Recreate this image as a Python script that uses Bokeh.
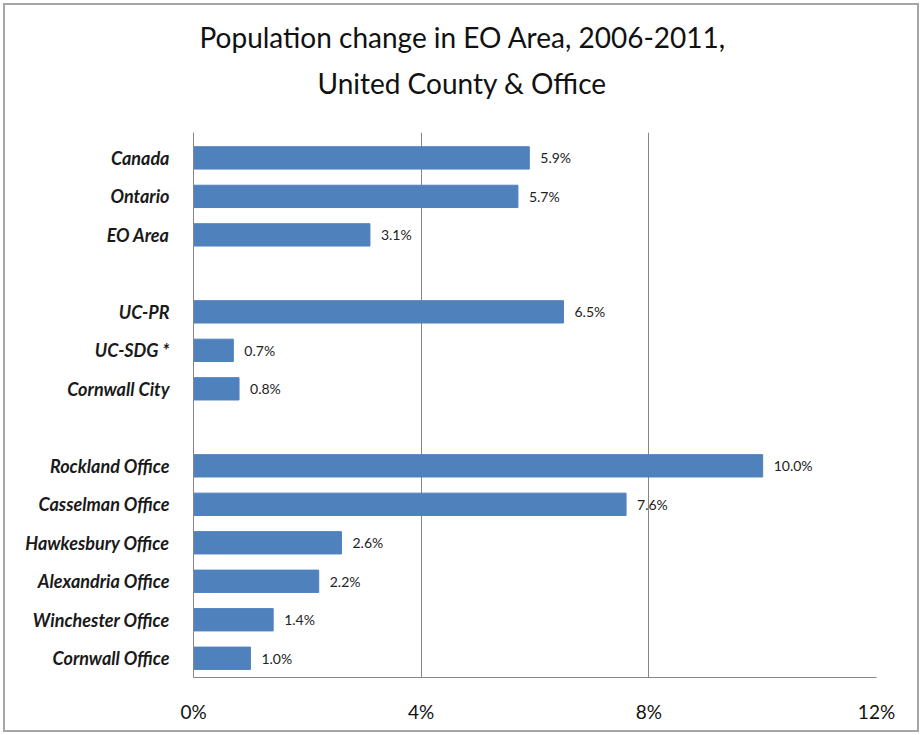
from bokeh.plotting import figure
from bokeh.models import ColumnDataSource, FixedTicker, Range1d, Title
from bokeh.core.properties import value
from bokeh.embed import file_html
from bokeh.resources import INLINE

categories = ["Canada", "Ontario", "EO Area",
              "UC-PR", "UC-SDG *", "Cornwall City",
              "Rockland Office", "Casselman Office", "Hawkesbury Office",
              "Alexandria Office", "Winchester Office", "Cornwall Office"]
values = [5.9, 5.7, 3.1, 6.5, 0.7, 0.8, 10.0, 7.6, 2.6, 2.2, 1.4, 1.0]
groups = [0, 0, 0, 1, 1, 1, 2, 2, 2, 2, 2, 2]
x_ticks = [0, 4, 8, 12]
x_tick_labels = ["0%", "4%", "8%", "12%"]
title_lines = ["Population change in EO Area, 2006-2011,", "United County & Office"]

positions = [i + g for i, g in enumerate(groups)]
labels = [f"{v:.1f}%" for v in values]
src = ColumnDataSource(dict(y=positions, v=values, lab=labels, cat=categories))

FONT = "Lato"

p = figure(width=916, height=729, output_backend="svg", toolbar_location=None,
           x_range=Range1d(0, 12), y_range=Range1d(positions[-1] + 0.5, -0.66),
           min_border_left=188, min_border_right=45, min_border_top=127, min_border_bottom=57)
p.styles = {"border": "2px solid #a6a6a6", "margin-left": "3px", "margin-top": "3px"}
p.outline_line_color = None

p.hbar(y="y", right="v", left=0, height=0.58, color="#4F81BD", source=src)
p.text(x="v", y="y", text="lab", source=src, x_offset=11, text_baseline="middle",
       text_align="left", text_font=value(FONT), text_font_size="14px", text_color="#222222")

p.xaxis.ticker = FixedTicker(ticks=x_ticks)
p.xaxis.major_label_overrides = {t: l for t, l in zip(x_ticks, x_tick_labels)}
p.xaxis.major_tick_line_color = None
p.xaxis.minor_tick_line_color = None
p.xaxis.axis_line_color = "#868686"
p.xaxis.major_label_text_font = FONT
p.xaxis.major_label_text_font_size = "19px"
p.xaxis.major_label_text_color = "#111111"
p.xaxis.major_label_standoff = 16

p.yaxis.ticker = FixedTicker(ticks=positions)
p.yaxis.major_label_overrides = {pos: c for pos, c in zip(positions, categories)}
p.yaxis.major_tick_line_color = None
p.yaxis.minor_tick_line_color = None
p.yaxis.axis_line_color = "#868686"
p.yaxis.major_label_text_font = FONT
p.yaxis.major_label_text_font_style = "bold italic"
p.yaxis.major_label_text_font_size = "18px"
p.yaxis.major_label_text_color = "#1a1a1a"
p.yaxis.major_label_standoff = 18

p.xgrid.grid_line_color = "#868686"
p.ygrid.grid_line_color = None

# spacer between the title block and the plot frame
p.add_layout(Title(text=" ", text_font_size="14px"), "above")
offsets = [6, 124]
for line, off in reversed(list(zip(title_lines, offsets))):
    p.add_layout(Title(text=line, align="left", offset=off, text_font=FONT,
                       text_font_size="28px", text_font_style="normal",
                       text_color="#111111"), "above")

open("out.html", "w").write(file_html(p, INLINE))
